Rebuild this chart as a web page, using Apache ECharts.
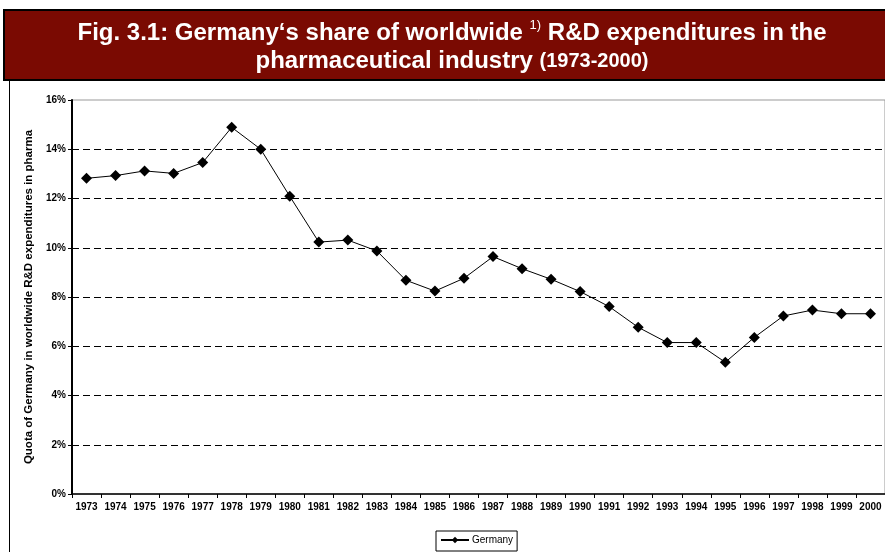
<!DOCTYPE html>
<html>
<head>
<meta charset="utf-8">
<style>
    html, body {
        margin: 0;
        padding: 0;
        background: #fff;
    }

    #chart {
        width: 885px;
        height: 552px;
    }
</style>
</head>
<body>
<div id="chart"></div>
<script src="https://cdn.jsdelivr.net/npm/echarts@6/dist/echarts.min.js"></script>
<script>
    // years on the x axis
    var years = ['1973', '1974', '1975', '1976', '1977', '1978', '1979', '1980', '1981', '1982',
      '1983', '1984', '1985', '1986', '1987', '1988', '1989', '1990', '1991', '1992',
      '1993', '1994', '1995', '1996', '1997', '1998', '1999', '2000'];

    // Germany's share in percent
    var germanyShare = [12.82, 12.93, 13.12, 13.02, 13.46, 14.89, 14.0, 12.09, 10.23, 10.31,
      9.87, 8.68, 8.24, 8.76, 9.64, 9.15, 8.72, 8.22, 7.61, 6.77,
      6.15, 6.15, 5.35, 6.36, 7.23, 7.47, 7.32, 7.32];

    var yMin = 0;
    var yMax = 16;
    var yStep = 2;

    var myChart = echarts.init(document.getElementById('chart'));

    var option = {
      animation: false,
      textStyle: {
        fontFamily: 'Liberation Sans, Arial, sans-serif'
      },
      graphic: [
        {
          // red title banner
          type: 'rect',
          shape: {x: 4, y: 10, width: 890, height: 70},
          style: {fill: '#7a0a02', stroke: '#000', lineWidth: 2},
          z: 0
        },
        {
          // left edge of the outer box
          type: 'line',
          shape: {x1: 9.5, y1: 81, x2: 9.5, y2: 552},
          style: {stroke: '#000', lineWidth: 1}
        },
        {
          type: 'text',
          x: 452,
          y: 19,
          style: {
            text: '{a|Fig. 3.1: Germany\u2018s share of worldwide }{s|1)}{a| R&D expenditures in the}\n{a|pharmaceutical industry }{b|(1973-2000)}',
            align: 'center',
            rich: {
              a: {fontSize: 24, fontWeight: 'bold', fill: '#fff', lineHeight: 28, fontFamily: 'Liberation Sans, Arial'},
              b: {fontSize: 20, fontWeight: 'bold', fill: '#fff', lineHeight: 28, fontFamily: 'Liberation Sans, Arial'},
              s: {fontSize: 13, fill: '#fff', lineHeight: 28, verticalAlign: 'top', padding: [0, 0, 8, 0], fontFamily: 'Liberation Sans, Arial'}
            }
          },
          z: 10
        }
      ],
      grid: {
        left: 72,
        top: 100,
        width: 817,
        height: 394,
        show: true,
        borderColor: '#999',
        borderWidth: 1,
        containLabel: false
      },
      legend: {
        data: ['Germany'],
        left: 436,
        top: 531,
        itemWidth: 28,
        itemHeight: 8,
        itemGap: 4,
        padding: [4, 4, 6, 4],
        borderColor: '#000',
        borderWidth: 1,
        textStyle: {fontSize: 10, color: '#000', padding: [0, 0, 0, -2]}
      },
      xAxis: {
        type: 'category',
        data: years,
        boundaryGap: true,
        axisLine: {lineStyle: {color: '#000', width: 1.5}},
        axisTick: {show: true, length: 4, lineStyle: {color: '#000'}},
        axisLabel: {color: '#000', fontSize: 10, fontWeight: 'bold', margin: 8, interval: 0},
        splitLine: {show: false}
      },
      yAxis: {
        type: 'value',
        min: yMin,
        max: yMax,
        interval: yStep,
        name: 'Quota of Germany in worldwide R&D expenditures in pharma',
        nameLocation: 'middle',
        nameGap: 37,
        nameTextStyle: {fontSize: 11.5, fontWeight: 'bold', color: '#000'},
        axisLine: {show: true, lineStyle: {color: '#000', width: 2}},
        axisTick: {show: true, length: 4, inside: false, lineStyle: {color: '#000'}},
        axisLabel: {color: '#000', fontSize: 10, fontWeight: 'bold', formatter: '{value}%', margin: 6},
        splitLine: {showMaxLine: false, showMinLine: false, lineStyle: {color: '#000', type: [7, 4], width: 1}}
      },
      series: [
        {
          name: 'Germany',
          type: 'line',
          data: germanyShare,
          symbol: 'diamond',
          symbolSize: 11,
          itemStyle: {color: '#000'},
          lineStyle: {color: '#000', width: 1}
        }
      ]
    };

    myChart.setOption(option);
</script>
</body>
</html>
